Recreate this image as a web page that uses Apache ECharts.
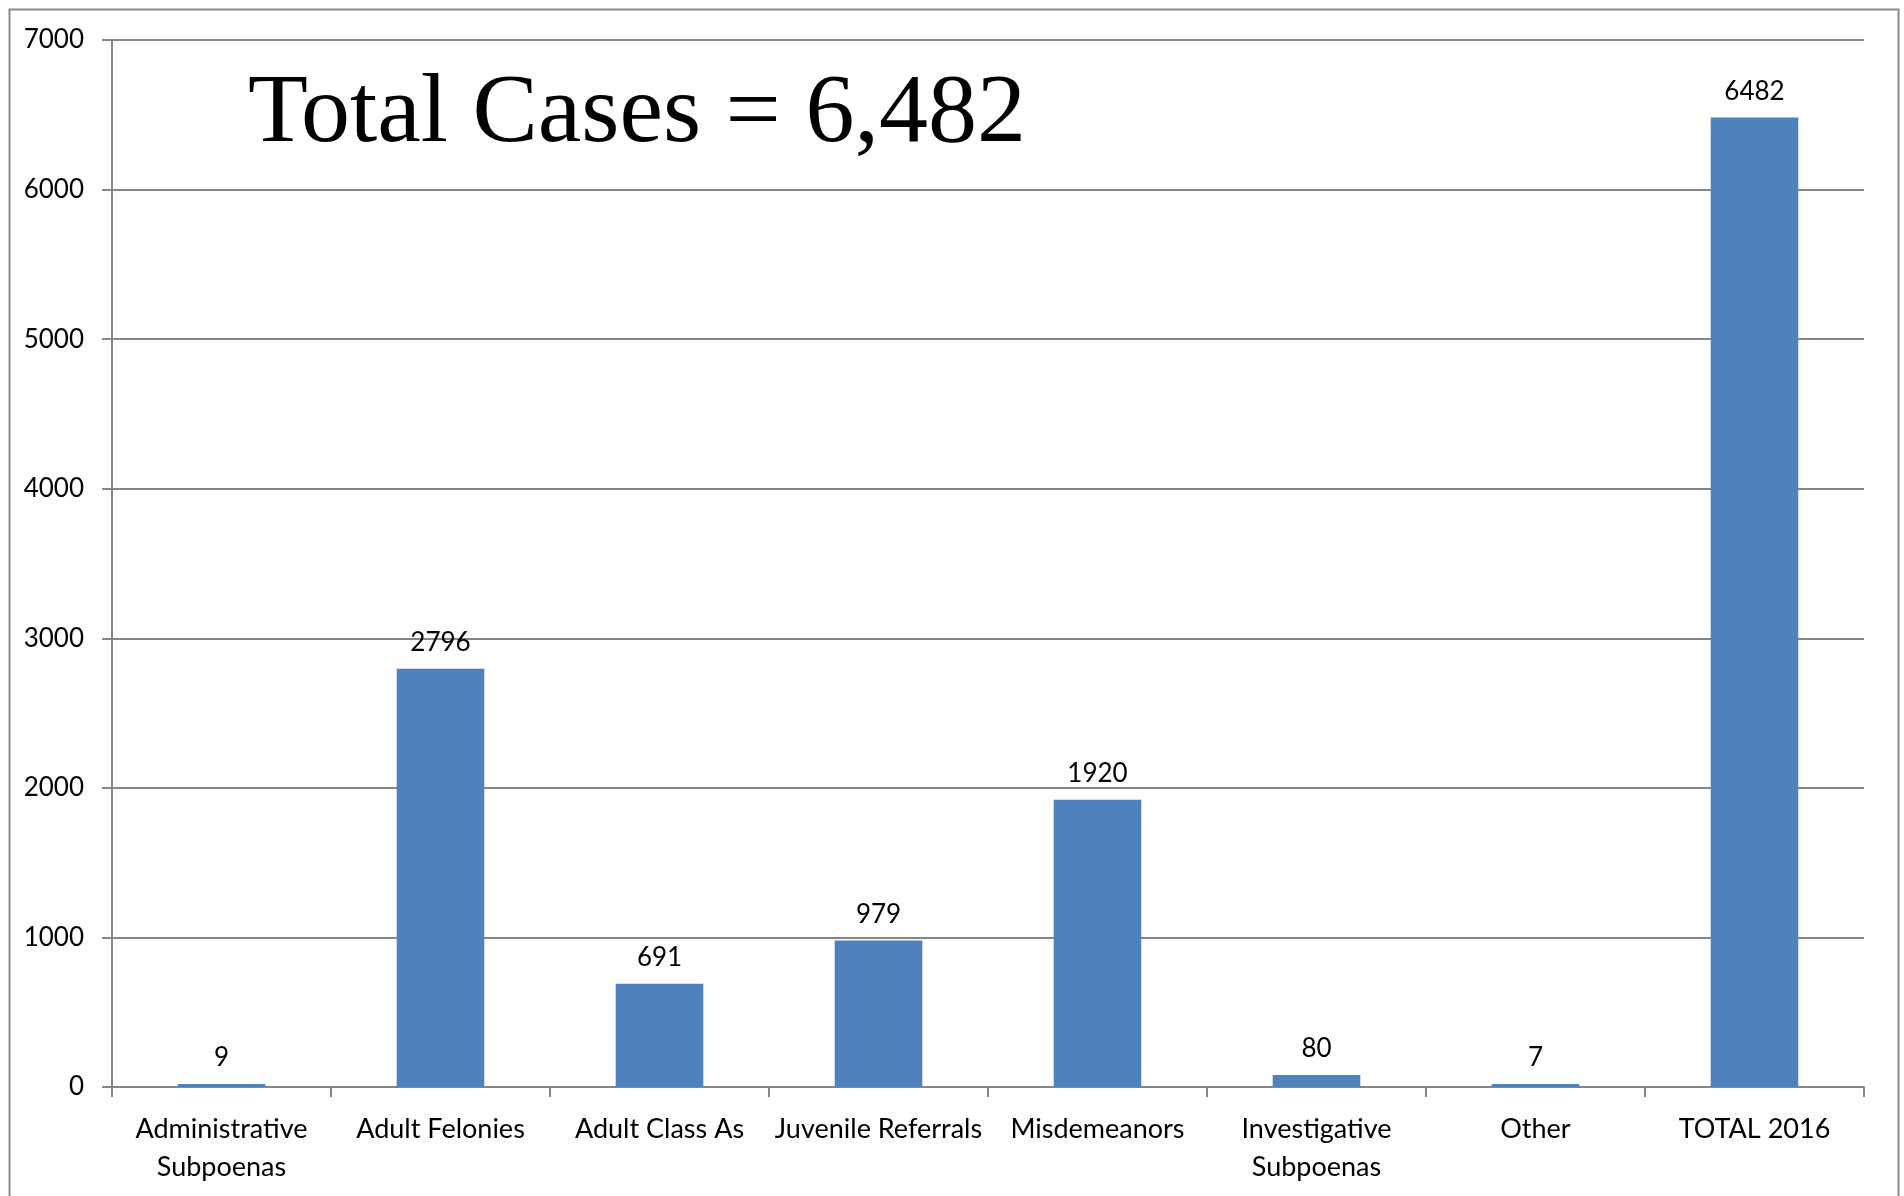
<!DOCTYPE html>
<html>
<head>
<meta charset="utf-8">
<script src="https://cdn.jsdelivr.net/npm/echarts@6/dist/echarts.min.js"></script>
<style>
html,body{margin:0;padding:0;background:#fff;}
#chart{width:1904px;height:1196px;}
</style>
</head>
<body>
<div id="chart"></div>
<script>
const categories = ["Administrative\nSubpoenas", "Adult Felonies", "Adult Class As", "Juvenile Referrals", "Misdemeanors", "Investigative\nSubpoenas", "Other", "TOTAL 2016"];
const values = [9, 2796, 691, 979, 1920, 80, 7, 6482];
const titleText = "Total Cases = 6,482";

const chart = echarts.init(document.getElementById('chart'));
const labelFont = 'Lato, "Open Sans", sans-serif';
chart.setOption({
  animation: false,
  backgroundColor: '#ffffff',
  graphic: [
    { type: 'rect', left: 7, top: 7, shape: { width: 1889, height: 1200 },
      style: { fill: 'none', stroke: '#8a8a8a', lineWidth: 2 }, z: 0 },
    { type: 'text', left: 248, top: 66,
      style: { text: titleText, font: '98px "Liberation Serif", "DejaVu Serif", serif', fill: '#000' }, z: 10 }
  ],
  grid: { left: 112, right: 40, top: 40, bottom: 109, containLabel: false },
  xAxis: {
    type: 'category',
    data: categories,
    axisLine: { lineStyle: { color: '#868686', width: 2 } },
    axisTick: { show: true, length: 10, lineStyle: { color: '#868686', width: 2 } },
    axisLabel: { color: '#000', fontSize: 27, fontFamily: labelFont, margin: 23, lineHeight: 38, interval: 0 },
    splitLine: { show: false }
  },
  yAxis: {
    type: 'value',
    min: 0, max: 7000, interval: 1000,
    axisLine: { show: true, lineStyle: { color: '#868686', width: 2 } },
    axisTick: { show: true, length: 10, lineStyle: { color: '#868686', width: 2 } },
    axisLabel: { color: '#000', fontSize: 26, fontFamily: labelFont, margin: 28, formatter: v => String(v) },
    splitLine: { show: true, lineStyle: { color: '#868686', width: 2 } }
  },
  series: [{
    type: 'bar',
    data: values,
    barCategoryGap: '60%',
    barMinHeight: 3,
    itemStyle: { color: '#4F81BD' },
    label: { show: true, position: 'top', distance: 13, color: '#000', fontSize: 26, fontFamily: labelFont }
  }]
});
</script>
</body>
</html>
